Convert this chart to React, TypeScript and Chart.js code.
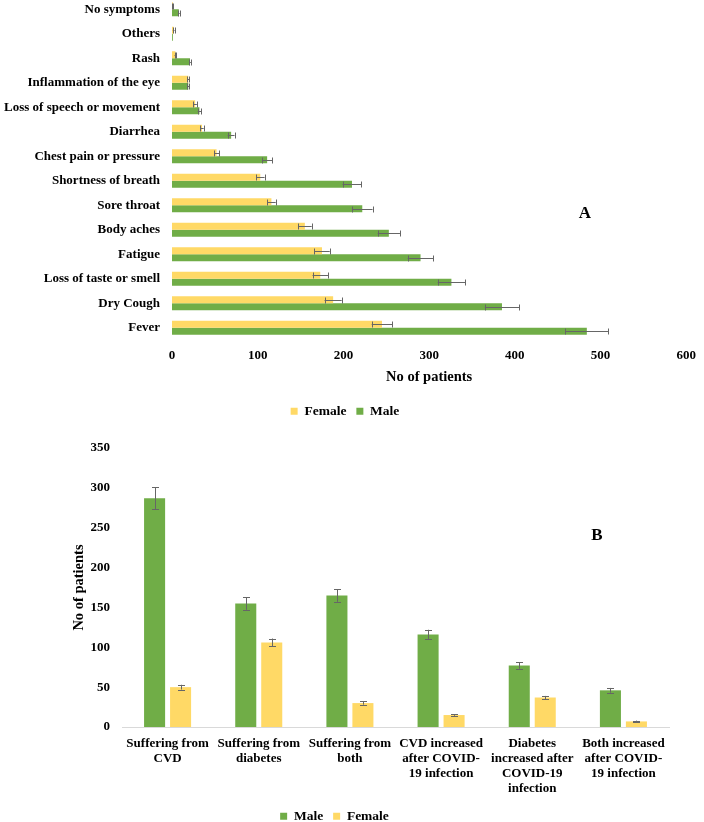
import React, { useEffect, useRef } from "react";
import { Chart, registerables } from "chart.js";

Chart.register(...registerables);

const GREEN = "#70AD47";
const YELLOW = "#FFD966";
const ERR_COLOR = "#666666";
const SERIF = "'Liberation Serif', 'Times New Roman', serif";

// Panel A: symptoms (listed top to bottom)
const symptoms = [
  "No symptoms",
  "Others",
  "Rash",
  "Inflammation of the eye",
  "Loss of speech or movement",
  "Diarrhea",
  "Chest pain or pressure",
  "Shortness of breath",
  "Sore throat",
  "Body aches",
  "Fatigue",
  "Loss of taste or smell",
  "Dry Cough",
  "Fever",
];
const femaleSymptoms = [1, 2, 4, 19, 27, 35, 52, 103, 116, 155, 175, 173, 188, 245];
const femaleSymptomsErr = [0.5, 1, 1, 1, 2, 2, 3, 5, 5, 8, 9, 9, 10, 12];
const maleSymptoms = [8, 1, 21, 19, 32, 69, 111, 210, 222, 253, 290, 326, 385, 484];
const maleSymptomsErr = [1, 0, 1, 1, 2, 4, 6, 11, 12, 13, 15, 16, 20, 25];

// Panel B: comorbidities
const conditions = [
  ["Suffering from", "CVD"],
  ["Suffering from", "diabetes"],
  ["Suffering from", "both"],
  ["CVD increased", "after COVID-", "19 infection"],
  ["Diabetes", "increased after", "COVID-19", "infection"],
  ["Both increased", "after COVID-", "19 infection"],
];
const maleConditions = [287, 155, 165, 116, 77, 46];
const maleConditionsErr = [14, 8, 8, 6, 4, 3];
const femaleConditions = [50, 106, 30, 15, 37, 7];
const femaleConditionsErr = [3, 5, 2, 1, 2, 1];

const tickFont = { family: SERIF, size: 13, weight: "bold" as const };
const titleFont = { family: SERIF, size: 14.5, weight: "bold" as const };

// draws +/- error whiskers at the end of each bar
function errorBars(errors: number[][], horizontal: boolean, cap: number) {
  return {
    id: "errorBars",
    afterDatasetsDraw(chart: any) {
      const ctx = chart.ctx;
      const scale = horizontal ? chart.scales.x : chart.scales.y;
      ctx.save();
      ctx.strokeStyle = ERR_COLOR;
      ctx.lineWidth = 1;
      chart.data.datasets.forEach((ds: any, di: number) => {
        const meta = chart.getDatasetMeta(di);
        meta.data.forEach((bar: any, i: number) => {
          const v = ds.data[i];
          const e = errors[di][i];
          if (!e) return;
          const lo = scale.getPixelForValue(Math.max(0, v - e));
          const hi = scale.getPixelForValue(v + e);
          ctx.beginPath();
          if (horizontal) {
            const y = Math.round(bar.y) + 0.5;
            ctx.moveTo(lo, y);
            ctx.lineTo(hi, y);
            ctx.moveTo(Math.round(lo) + 0.5, y - cap / 2);
            ctx.lineTo(Math.round(lo) + 0.5, y + cap / 2);
            ctx.moveTo(Math.round(hi) + 0.5, y - cap / 2);
            ctx.lineTo(Math.round(hi) + 0.5, y + cap / 2);
          } else {
            const x = Math.round(bar.x) + 0.5;
            ctx.moveTo(x, lo);
            ctx.lineTo(x, hi);
            ctx.moveTo(x - cap / 2, Math.round(lo) + 0.5);
            ctx.lineTo(x + cap / 2, Math.round(lo) + 0.5);
            ctx.moveTo(x - cap / 2, Math.round(hi) + 0.5);
            ctx.lineTo(x + cap / 2, Math.round(hi) + 0.5);
          }
          ctx.stroke();
        });
      });
      ctx.restore();
    },
  };
}

const legendOpts = {
  position: "bottom" as const,
  labels: {
    boxWidth: 7,
    boxHeight: 7,
    padding: 10,
    color: "#000",
    font: { family: SERIF, size: 13.5, weight: "bold" as const },
  },
};

const noGrid = { display: false, drawTicks: false };

const SymptomsChart: React.FC = () => {
  const ref = useRef<HTMLCanvasElement | null>(null);

  useEffect(() => {
    if (!ref.current) return;
    const chart = new Chart(ref.current, {
      type: "bar",
      data: {
        labels: symptoms,
        datasets: [
          {
            label: "Female",
            data: femaleSymptoms,
            backgroundColor: YELLOW,
            categoryPercentage: 0.58,
            barPercentage: 1,
          },
          {
            label: "Male",
            data: maleSymptoms,
            backgroundColor: GREEN,
            categoryPercentage: 0.58,
            barPercentage: 1,
          },
        ],
      },
      options: {
        indexAxis: "y",
        animation: false,
        responsive: true,
        maintainAspectRatio: false,
        layout: { padding: { left: 0, right: 14, top: 0, bottom: 0 } },
        plugins: {
          legend: legendOpts,
          tooltip: { enabled: false },
        },
        scales: {
          x: {
            min: 0,
            max: 600,
            ticks: { stepSize: 100, padding: 8, color: "#000", font: tickFont },
            grid: noGrid,
            border: { display: false },
            title: {
              display: true,
              text: "No of patients",
              color: "#000",
              font: titleFont,
              padding: { top: 0, bottom: 9 },
            },
            afterFit: (s: any) => {
              s.height = 54.5;
            },
          },
          y: {
            ticks: { padding: 12, color: "#000", font: tickFont, autoSkip: false },
            grid: noGrid,
            border: { display: false },
            afterFit: (s: any) => {
              s.width = 172;
              s.paddingTop = 0;
              s.paddingBottom = 0;
            },
          },
        },
      },
      plugins: [errorBars([femaleSymptomsErr, maleSymptomsErr], true, 6)],
    });
    return () => chart.destroy();
  }, []);

  return (
    <div style={{ position: "absolute", left: 0, top: -3, width: 704, height: 431 }}>
      <canvas ref={ref} />
    </div>
  );
};

const ConditionsChart: React.FC = () => {
  const ref = useRef<HTMLCanvasElement | null>(null);

  useEffect(() => {
    if (!ref.current) return;
    const chart = new Chart(ref.current, {
      type: "bar",
      data: {
        labels: conditions,
        datasets: [
          {
            label: "Male",
            data: maleConditions,
            backgroundColor: GREEN,
            categoryPercentage: 0.57,
            barPercentage: 0.81,
          },
          {
            label: "Female",
            data: femaleConditions,
            backgroundColor: YELLOW,
            categoryPercentage: 0.57,
            barPercentage: 0.81,
          },
        ],
      },
      options: {
        animation: false,
        responsive: true,
        maintainAspectRatio: false,
        layout: { padding: { left: 0, right: 35, top: 18, bottom: 0 } },
        plugins: {
          legend: legendOpts,
          tooltip: { enabled: false },
        },
        scales: {
          x: {
            ticks: {
              padding: 9,
              color: "#000",
              font: { ...tickFont, lineHeight: 1.15 },
              autoSkip: false,
              maxRotation: 0,
            },
            grid: noGrid,
            border: { display: true, color: "#d9d9d9", width: 1 },
            afterFit: (s: any) => {
              s.height = 72.5;
            },
          },
          y: {
            min: 0,
            max: 350,
            ticks: { stepSize: 50, padding: 12, color: "#000", font: tickFont },
            grid: noGrid,
            border: { display: false },
            title: {
              display: true,
              text: "No of patients",
              color: "#000",
              font: titleFont,
              padding: { top: 71, bottom: 0 },
            },
            afterFit: (s: any) => {
              s.width = 122;
              s.paddingTop = 0;
              s.paddingBottom = 0;
            },
          },
        },
      },
      plugins: [errorBars([maleConditionsErr, femaleConditionsErr], false, 7)],
    });
    return () => chart.destroy();
  }, []);

  return (
    <div style={{ position: "absolute", left: 0, top: 430, width: 704, height: 403 }}>
      <canvas ref={ref} />
    </div>
  );
};

const panelLetter: React.CSSProperties = {
  position: "absolute",
  transform: "translate(-50%, -50%)",
  fontFamily: SERIF,
  fontWeight: "bold",
  fontSize: 17,
  color: "#000",
  lineHeight: 1,
};

export default function App() {
  return (
    <div
      style={{
        position: "absolute",
        left: 0,
        top: 0,
        width: 704,
        height: 822,
        overflow: "hidden",
        background: "#fff",
      }}
    >
      <SymptomsChart />
      <ConditionsChart />
      <div style={{ ...panelLetter, left: 585, top: 212 }}>A</div>
      <div style={{ ...panelLetter, left: 597, top: 534 }}>B</div>
    </div>
  );
}
